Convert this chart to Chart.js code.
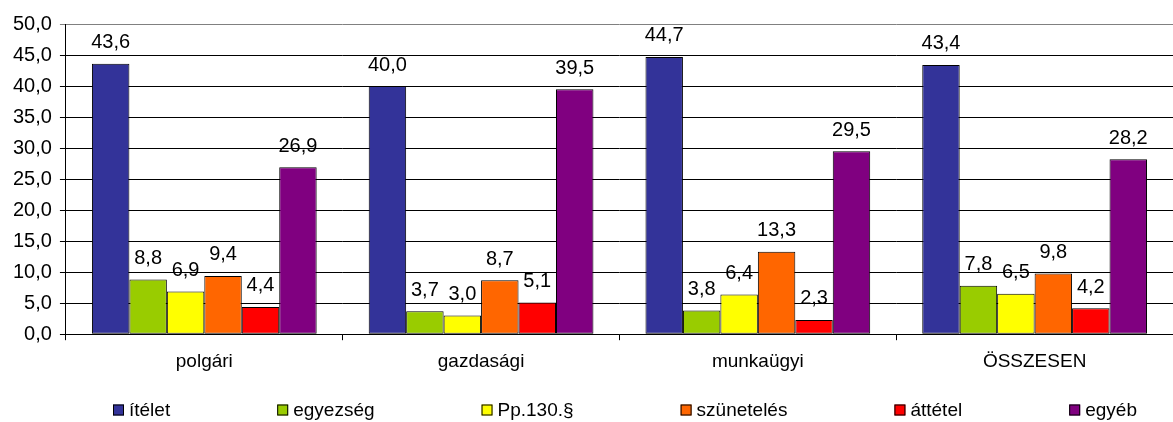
<!DOCTYPE html>
<html>
<head>
<meta charset="utf-8">
<script src="https://cdn.jsdelivr.net/npm/chart.js@4/dist/chart.umd.min.js"></script>
<style>
html,body{margin:0;padding:0;background:#fff;}
#wrap{width:1173px;height:422px;position:relative;}
</style>
</head>
<body>
<div id="wrap"><canvas id="c" width="1173" height="422"></canvas></div>
<script>
const categories = ['polgári', 'gazdasági', 'munkaügyi', 'ÖSSZESEN'];
const seriesNames = ['ítélet', 'egyezség', 'Pp.130.§', 'szünetelés', 'áttétel', 'egyéb'];
const itelet = [43.6, 40.0, 44.7, 43.4];
const egyezseg = [8.8, 3.7, 3.8, 7.8];
const pp130 = [6.9, 3.0, 6.4, 6.5];
const szunetes = [9.4, 8.7, 13.3, 9.8];
const attetel = [4.4, 5.1, 2.3, 4.2];
const egyeb = [26.9, 39.5, 29.5, 28.2];
const yTicks = [0, 5, 10, 15, 20, 25, 30, 35, 40, 45, 50];

const colors = ['#333399', '#99CC00', '#FFFF00', '#FF6600', '#FF0000', '#800080'];
const values = [itelet, egyezseg, pp130, szunetes, attetel, egyeb];
const FONT = '"Liberation Sans", Arial, sans-serif';
const fmt = v => v.toFixed(1).replace('.', ',');

const labelPlugin = {
  id: 'vals',
  afterDatasetsDraw(chart) {
    const ctx = chart.ctx;
    ctx.save();
    ctx.font = '20px ' + FONT;
    ctx.fillStyle = '#000';
    ctx.textAlign = 'center';
    ctx.textBaseline = 'middle';
    chart.data.datasets.forEach((ds, i) => {
      const meta = chart.getDatasetMeta(i);
      meta.data.forEach((el, j) => {
        ctx.fillText(fmt(ds.data[j]), el.x, el.y - 21);
      });
    });
    ctx.restore();
  }
};

const legendPlugin = {
  id: 'customLegend',
  afterDraw(chart) {
    const ctx = chart.ctx;
    ctx.save();
    ctx.font = '19px ' + FONT;
    const box = 11, gapText = 5, gapItem = 107;
    const widths = chart.data.datasets.map(ds => box + gapText + ctx.measureText(ds.label).width);
    let x = 113;
    const y = 410;
    chart.data.datasets.forEach((ds, i) => {
      ctx.fillStyle = ds.backgroundColor;
      ctx.fillRect(x, y - box / 2, box, box);
      ctx.strokeStyle = '#000';
      ctx.lineWidth = 1;
      ctx.strokeRect(x + 0.5, y - box / 2 + 0.5, box - 1, box - 1);
      ctx.fillStyle = '#000';
      ctx.textAlign = 'left';
      ctx.textBaseline = 'middle';
      ctx.fillText(ds.label, x + box + gapText, y + 1);
      x += widths[i] + gapItem;
    });
    ctx.restore();
  }
};

new Chart(document.getElementById('c'), {
  type: 'bar',
  data: {
    labels: categories,
    datasets: seriesNames.map((n, i) => ({
      label: n,
      data: values[i],
      backgroundColor: colors[i],
      borderColor: '#000',
      borderWidth: 1,
      borderSkipped: false
    }))
  },
  options: {
    responsive: false,
    animation: false,
    devicePixelRatio: 1,
    layout: { padding: { left: 5, right: 0, top: 24, bottom: 39 } },
    datasets: { bar: { categoryPercentage: 0.812, barPercentage: 1.0 } },
    plugins: {
      legend: { display: false },
      tooltip: { enabled: false }
    },
    scales: {
      x: {
        offset: true,
        grid: { display: true, offset: true, drawOnChartArea: false, drawTicks: true, tickLength: 6, color: '#000' },
        border: { display: true, color: '#000', width: 1 },
        ticks: { color: '#000', font: { family: FONT, size: 19 }, padding: 10 }
      },
      y: {
        min: 0, max: 50,
        afterBuildTicks: axis => { axis.ticks = yTicks.map(v => ({ value: v })); },
        grid: { color: ctx => (ctx.tick && ctx.tick.value === 50 ? '#808080' : '#000'), tickLength: 6, drawTicks: true },
        border: { display: true, color: '#000', width: 1 },
        ticks: { color: '#000', font: { family: FONT, size: 20 }, padding: 8, callback: v => fmt(v) }
      }
    }
  },
  plugins: [labelPlugin, legendPlugin]
});
</script>
</body>
</html>
